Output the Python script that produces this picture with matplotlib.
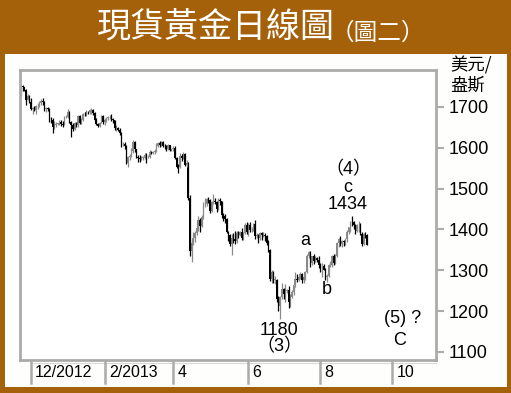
import numpy as np
import pandas as pd
import matplotlib
matplotlib.use("Agg")
import matplotlib.pyplot as plt
from matplotlib.patches import Rectangle
from matplotlib.transforms import blended_transform_factory

# daily spot gold, 2012-11-23 .. 2013-09-10 (business days)
opens = [
    1730, 1751, 1749, 1741, 1718, 1727,
    1712, 1694, 1697, 1693, 1702, 1703, 1711, 1715, 1712, 1695, 1697, 1696, 1668, 1667, 1650, 1657, 1659, 1659, 1663, 1658, 1657,
    1675, 1676, 1688, 1664, 1656, 1646, 1660, 1655, 1677, 1662, 1669, 1683, 1682, 1688, 1687, 1692, 1692, 1685, 1669, 1658, 1654, 1662, 1677,
    1663, 1667, 1673, 1675, 1676, 1671, 1667, 1648, 1649, 1644, 1636, 1609, 1610, 1604, 1564, 1577, 1581, 1593, 1614, 1596,
    1578, 1575, 1572, 1575, 1575, 1583, 1577, 1577, 1590, 1588, 1590, 1592, 1604, 1613, 1606, 1614, 1605, 1604, 1596, 1606, 1595,
    1596, 1600, 1575, 1554, 1553, 1580, 1575, 1585, 1558, 1564, 1476, 1348, 1368, 1378, 1392, 1403, 1424, 1408, 1431, 1462, 1462, 1475,
    1472, 1446, 1467, 1469, 1468, 1451, 1473, 1469, 1435, 1433, 1425, 1394, 1386, 1365, 1380, 1376, 1371, 1391, 1387, 1393, 1380, 1392, 1412,
    1393, 1412, 1398, 1398, 1414, 1383, 1386, 1378, 1391, 1387, 1387, 1383, 1367, 1350, 1279, 1297, 1277, 1277, 1230, 1212,
    1234, 1254, 1243, 1250, 1251, 1223, 1235, 1246, 1263, 1278, 1276, 1283, 1290, 1277, 1284, 1295, 1335, 1345, 1318, 1335, 1322, 1329, 1325,
    1313, 1310, 1311, 1302, 1283, 1286, 1312, 1313, 1334, 1319, 1334, 1366, 1376, 1365, 1372, 1370, 1377, 1395, 1405, 1419, 1418, 1411,
    1396, 1410, 1412, 1390, 1365, 1390, 1386,
]
highs = [
    1754, 1754, 1750, 1744, 1732, 1730,
    1723, 1701, 1703, 1705, 1709, 1715, 1720, 1723, 1714, 1701, 1700, 1697, 1675, 1672, 1665, 1663, 1661, 1667, 1667, 1665, 1677,
    1680, 1694, 1690, 1666, 1662, 1663, 1664, 1681, 1680, 1672, 1686, 1688, 1693, 1691, 1694, 1697, 1696, 1687, 1672, 1662, 1664, 1680, 1680,
    1674, 1676, 1679, 1681, 1684, 1674, 1668, 1655, 1652, 1649, 1638, 1614, 1615, 1606, 1580, 1585, 1600, 1619, 1616, 1598,
    1582, 1582, 1581, 1580, 1588, 1587, 1582, 1594, 1593, 1593, 1596, 1611, 1615, 1616, 1617, 1616, 1610, 1606, 1609, 1608, 1598,
    1605, 1604, 1577, 1561, 1587, 1584, 1590, 1587, 1569, 1566, 1484, 1375, 1393, 1396, 1424, 1433, 1428, 1435, 1468, 1477, 1477, 1480,
    1474, 1470, 1487, 1476, 1470, 1477, 1477, 1470, 1440, 1437, 1429, 1397, 1390, 1390, 1392, 1397, 1396, 1397, 1396, 1404, 1395, 1415, 1418,
    1415, 1418, 1405, 1417, 1423, 1392, 1390, 1395, 1394, 1395, 1392, 1387, 1375, 1353, 1302, 1299, 1285, 1279, 1237, 1238,
    1268, 1256, 1266, 1254, 1261, 1241, 1252, 1264, 1297, 1290, 1287, 1296, 1293, 1287, 1299, 1339, 1348, 1347, 1336, 1339, 1335, 1333, 1336,
    1318, 1317, 1315, 1305, 1291, 1315, 1324, 1337, 1339, 1339, 1369, 1380, 1385, 1375, 1375, 1380, 1398, 1407, 1422, 1434, 1420, 1413,
    1413, 1421, 1416, 1393, 1392, 1394, 1388,
]
lows = [
    1728, 1740, 1738, 1705, 1716, 1710,
    1692, 1684, 1689, 1684, 1695, 1700, 1706, 1705, 1689, 1688, 1690, 1664, 1661, 1636, 1645, 1652, 1656, 1655, 1654, 1651, 1655,
    1672, 1674, 1660, 1626, 1641, 1643, 1651, 1652, 1658, 1659, 1665, 1677, 1679, 1682, 1684, 1683, 1680, 1666, 1656, 1651, 1652, 1660, 1659,
    1657, 1664, 1668, 1670, 1666, 1660, 1643, 1641, 1640, 1632, 1603, 1604, 1598, 1560, 1554, 1571, 1578, 1588, 1591, 1576,
    1565, 1566, 1570, 1571, 1573, 1562, 1574, 1576, 1584, 1584, 1585, 1590, 1601, 1601, 1604, 1602, 1597, 1592, 1594, 1592, 1593,
    1592, 1572, 1550, 1539, 1551, 1568, 1572, 1556, 1553, 1473, 1335, 1321, 1362, 1370, 1386, 1397, 1395, 1405, 1425, 1455, 1458, 1464,
    1441, 1444, 1462, 1462, 1442, 1448, 1460, 1428, 1420, 1415, 1391, 1372, 1359, 1338, 1367, 1364, 1368, 1380, 1384, 1375, 1374, 1390, 1389,
    1385, 1395, 1393, 1396, 1377, 1378, 1366, 1375, 1375, 1381, 1372, 1362, 1345, 1275, 1268, 1270, 1266, 1222, 1200, 1180,
    1230, 1230, 1223, 1245, 1207, 1211, 1233, 1240, 1260, 1272, 1273, 1278, 1270, 1270, 1276, 1293, 1331, 1309, 1313, 1316, 1320, 1320, 1306,
    1297, 1284, 1300, 1276, 1271, 1284, 1309, 1309, 1314, 1316, 1332, 1357, 1360, 1358, 1360, 1362, 1370, 1389, 1395, 1408, 1402, 1390,
    1394, 1394, 1387, 1360, 1363, 1380, 1361,
]
closes = [
    1751, 1749, 1741, 1718, 1727, 1712,
    1694, 1697, 1693, 1702, 1703, 1711, 1715, 1712, 1695, 1697, 1696, 1668, 1667, 1650, 1657, 1659, 1659, 1663, 1658, 1657, 1675,
    1676, 1688, 1664, 1656, 1646, 1660, 1655, 1677, 1662, 1669, 1683, 1682, 1688, 1687, 1692, 1692, 1685, 1669, 1658, 1654, 1662, 1677, 1663,
    1667, 1673, 1675, 1676, 1671, 1667, 1648, 1649, 1644, 1636, 1609, 1610, 1604, 1564, 1577, 1581, 1593, 1614, 1596, 1578,
    1575, 1572, 1575, 1575, 1583, 1577, 1577, 1590, 1588, 1590, 1592, 1604, 1613, 1606, 1614, 1605, 1604, 1596, 1606, 1595, 1596,
    1600, 1575, 1554, 1553, 1580, 1575, 1585, 1558, 1564, 1476, 1348, 1368, 1378, 1392, 1403, 1424, 1408, 1431, 1462, 1462, 1475, 1472,
    1446, 1467, 1469, 1468, 1451, 1473, 1469, 1435, 1433, 1425, 1394, 1386, 1365, 1380, 1376, 1371, 1391, 1387, 1393, 1380, 1392, 1412, 1393,
    1412, 1398, 1398, 1414, 1383, 1386, 1378, 1391, 1387, 1387, 1383, 1367, 1350, 1279, 1297, 1277, 1277, 1230, 1212, 1234,
    1254, 1243, 1250, 1251, 1223, 1235, 1246, 1263, 1278, 1276, 1283, 1290, 1277, 1284, 1295, 1335, 1345, 1318, 1335, 1322, 1329, 1325, 1313,
    1310, 1311, 1302, 1283, 1286, 1312, 1313, 1334, 1319, 1334, 1366, 1376, 1365, 1372, 1370, 1377, 1395, 1405, 1419, 1418, 1411, 1396,
    1410, 1412, 1390, 1365, 1390, 1386, 1363,
]

tick_dates = ["2012-12-03", "2013-02-01", "2013-04-01", "2013-06-03", "2013-08-01", "2013-10-01"]
tick_labels = ["12/2012", "2/2013", "4", "6", "8", "10"]
y_ticks = [1100, 1200, 1300, 1400, 1500, 1600, 1700]

BROWN = "#A5610A"
GRAY = "#ABABAB"
LATIN = ["Liberation Sans", "Noto Sans CJK TC"]
CJK = ["Noto Sans CJK TC", "DejaVu Sans"]

calendar = pd.bdate_range("2012-11-21", "2013-12-31")
dates = pd.bdate_range("2012-11-23", "2013-09-10")
assert len(dates) == len(opens) == len(highs) == len(lows) == len(closes)
x = calendar.searchsorted(dates)
o, h, l, c = (np.array(v, dtype=float) for v in (opens, highs, lows, closes))
up = c >= o

fig = plt.figure(figsize=(5.11, 3.93), dpi=100)
fig.patch.set_facecolor(BROWN)
fig.add_artist(Rectangle((5 / 511, 6 / 393), 502 / 511, 333 / 393, transform=fig.transFigure,
                         facecolor="#FEFEFC", edgecolor="none", zorder=0))

ax = fig.add_axes([20 / 511, 33 / 393, 416 / 511, 290 / 393])
ax.set_facecolor("white")

for mask, col in ((up, "#8a8a8a"), (~up, "black")):
    ax.vlines(x[mask], l[mask], h[mask], color=col, linewidth=0.9)
    ax.bar(x[mask], np.maximum(np.abs(c[mask] - o[mask]), 1.5), bottom=np.minimum(o[mask], c[mask]),
           width=0.9, color=col, linewidth=0)

ax.set_xlim(1.4, 250.2)
ax.set_ylim(1080.4, 1790.6)

for s in ax.spines.values():
    s.set_color(GRAY)
    s.set_linewidth(2)

ax.yaxis.tick_right()
ax.set_yticks(y_ticks)
ax.set_yticklabels([str(v) for v in y_ticks], fontsize=13, family=LATIN)
ax.tick_params(axis="y", length=6, width=1.5, color=GRAY, pad=3)
ax.set_xticks([])

# date strip under the plot
trans = blended_transform_factory(ax.transData, ax.transAxes)
tick_pos = calendar.searchsorted(pd.to_datetime(tick_dates))
ax.plot([tick_pos[0], 250.2], [-0.01, -0.01], transform=trans, color="#D8D8D8", lw=0.8, clip_on=False)
for p, lab in zip(tick_pos, tick_labels):
    ax.plot([p, p], [-0.005, -0.08], transform=trans, color=GRAY, lw=1.8, clip_on=False)
    ax.annotate(lab, xy=(p, -0.043), xycoords=trans, xytext=(3, 0), textcoords="offset points",
                ha="left", va="center", fontsize=11.5, family=LATIN)

# wave labels
kw = dict(ha="center", va="center", fontsize=13, family=LATIN)
ax.text(197.6, 1546, "（4）", **kw)
ax.text(197.6, 1502, "c", **kw)
ax.text(197.6, 1460, "1434", **kw)
ax.text(171.9, 1374, "a", **kw)
ax.text(185.0, 1252, "b", **kw)
ax.text(156.3, 1152, "1180", **kw)
ax.text(156.3, 1112, "（3）", **kw)
ax.text(230.5, 1183, "(5) ?", **kw)
ax.text(228.7, 1127, "C", **kw)

fig.text(450 / 511, 1 - 56 / 393, "美元/\n盎斯", ha="left", va="top", fontsize=12.5,
         family=CJK, linespacing=1.2)

fig.text(97 / 511, 1 - 28 / 393, "現貨黃金日線圖", ha="left", va="center", fontsize=24.5,
         color="white", family=CJK)
fig.text(331 / 511, 1 - 33 / 393, "（圖二）", ha="left", va="center", fontsize=17,
         color="white", family=CJK)

fig.savefig("out.png", dpi=100, facecolor=fig.get_facecolor())
